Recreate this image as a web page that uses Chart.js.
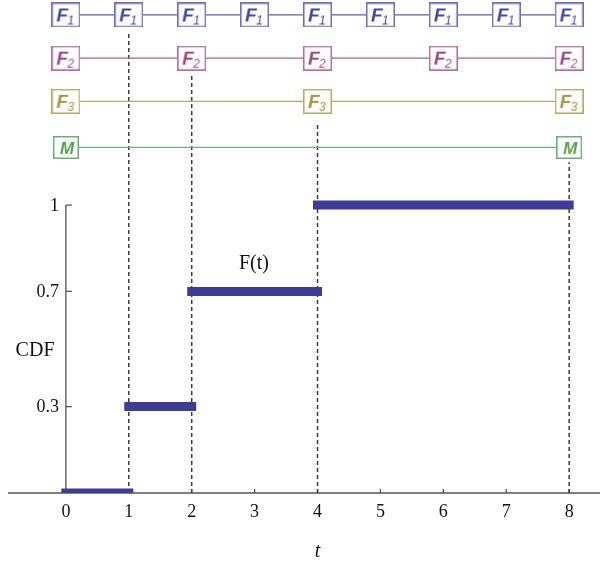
<!DOCTYPE html>
<html>
<head>
<meta charset="utf-8">
<script src="https://cdn.jsdelivr.net/npm/chart.js@4"></script>
<style>
  body { margin: 0; background: #fff; }
  #wrap { width: 606px; height: 567px; }
</style>
</head>
<body>
<div id="wrap"><canvas id="cdfChart" width="606" height="567"></canvas></div>
<script>
// step function F(t)
const stepStart = [0, 1, 2, 4];
const stepEnd = [1, 2, 4, 8];
const stepValue = [0, 0.3, 0.7, 1];

const xTicks = [0, 1, 2, 3, 4, 5, 6, 7, 8];
const yTicks = [0.3, 0.7, 1];
const yTickLabels = ["0.3", "0.7", "1"];

// timeline rows on top (box positions in t)
const rowNames = ["F1", "F2", "F3", "M"];
const rowTimes = [
  [0, 1, 2, 3, 4, 5, 6, 7, 8],
  [0, 2, 4, 6, 8],
  [0, 4, 8],
  [0, 8]
];
const rowLevel = [1.66, 1.51, 1.36, 1.2];

// dashed guides from the axis up to the row where the event occurs
const dashX = [1, 2, 4, 8];
const dashTop = [1.597, 1.458, 1.288, 1.149];

const rowColors = [
  { line: "#5c5cb4", box: "#6d6dbb", text: "#4545a6" },
  { line: "#ab5b98", box: "#b06e9f", text: "#9c4888" },
  { line: "#b8a868", box: "#b9aa68", text: "#a89440" },
  { line: "#68b47a", box: "#66b277", text: "#5aa048" }
];

const serif = "'Liberation Serif', 'Times New Roman', serif";

function makeBox(name, c) {
  const isM = name === "M";
  const w = isM ? 26 : 29, h = isM ? 23 : 25;
  const cv = document.createElement("canvas");
  cv.width = w; cv.height = h;
  const g = cv.getContext("2d");
  g.fillStyle = "#fff";
  g.fillRect(0, 0, w, h);
  g.strokeStyle = c.box;
  g.lineWidth = 1.5;
  g.strokeRect(0.75, 0.75, w - 1.5, h - 1.5);
  g.fillStyle = c.text;
  g.textBaseline = "alphabetic";
  if (isM) {
    g.font = "italic bold 17px 'Liberation Sans', Arial, sans-serif";
    g.textAlign = "center";
    g.fillText("M", w / 2 + 1, 18);
  } else {
    g.font = "italic bold 19px 'Liberation Sans', Arial, sans-serif";
    g.textAlign = "left";
    g.fillText("F", 5, 19);
    g.font = "italic 12px 'Liberation Sans', Arial, sans-serif";
    g.fillText(name.slice(1), 16, 22);
  }
  return cv;
}

const datasets = [];

// rows (lines + boxes)
rowNames.forEach((name, i) => {
  datasets.push({
    data: rowTimes[i].map(t => ({ x: t, y: rowLevel[i] })),
    borderColor: rowColors[i].line,
    borderWidth: 1.3,
    pointStyle: makeBox(name, rowColors[i]),
    order: 1
  });
});

// step bars
const stepData = [];
stepStart.forEach((s, i) => {
  stepData.push({ x: s, y: stepValue[i] }, { x: stepEnd[i], y: stepValue[i] }, { x: stepEnd[i], y: null });
});
datasets.push({
  data: stepData,
  borderColor: "#3d3d97",
  borderWidth: 9,
  borderCapStyle: "square",
  spanGaps: false,
  pointRadius: 0,
  order: 2
});

// dashed guides
dashX.forEach((x, i) => {
  datasets.push({
    data: [{ x: x, y: 0 }, { x: x, y: dashTop[i] }],
    borderColor: "#3a3a3a",
    borderWidth: 1.5,
    borderDash: [4, 3],
    pointRadius: 0,
    order: 5
  });
});

const axisPlugin = {
  id: "axisPlugin",
  beforeDatasetsDraw(chart) {
    const { ctx, scales: { x, y } } = chart;
    const x0 = x.getPixelForValue(0);
    const yb = y.getPixelForValue(0);
    ctx.save();
    ctx.strokeStyle = "#555";
    ctx.lineWidth = 1.3;
    ctx.beginPath();
    // x axis line across the plot
    ctx.moveTo(chart.chartArea.left, yb);
    ctx.lineTo(chart.chartArea.right, yb);
    // y axis line from 0 to 1
    ctx.moveTo(x0, yb);
    ctx.lineTo(x0, y.getPixelForValue(1));
    yTicks.forEach(v => {
      const py = y.getPixelForValue(v);
      ctx.moveTo(x0, py);
      ctx.lineTo(x0 + 6, py);
    });
    xTicks.forEach(v => {
      const px = x.getPixelForValue(v);
      ctx.moveTo(px, yb);
      ctx.lineTo(px, yb - 4);
    });
    ctx.stroke();

    ctx.fillStyle = "#111";
    ctx.font = "18px " + serif;
    ctx.textBaseline = "middle";
    ctx.textAlign = "center";
    xTicks.forEach(v => ctx.fillText(String(v), x.getPixelForValue(v), yb + 19));
    ctx.textAlign = "right";
    yTicks.forEach((v, i) => ctx.fillText(yTickLabels[i], x0 - 7, y.getPixelForValue(v) + 1));
    ctx.restore();
  },
  afterDraw(chart) {
    const { ctx, scales: { x, y } } = chart;
    ctx.save();
    ctx.fillStyle = "#111";
    ctx.textAlign = "center";
    ctx.textBaseline = "middle";
    ctx.font = "20px " + serif;
    ctx.fillText("CDF", x.getPixelForValue(-0.49), y.getPixelForValue(0.495));
    ctx.fillText("F(t)", x.getPixelForValue(2.99), y.getPixelForValue(0.795));
    ctx.font = "italic 20px " + serif;
    ctx.fillText("t", x.getPixelForValue(4), y.getPixelForValue(0) + 59);
    ctx.restore();
  }
};

new Chart(document.getElementById("cdfChart"), {
  type: "line",
  data: { datasets: datasets },
  options: {
    responsive: false,
    animation: false,
    devicePixelRatio: 1,
    layout: { autoPadding: false, padding: { left: 8, right: 6, top: 0, bottom: 74 } },
    plugins: { legend: { display: false }, tooltip: { enabled: false } },
    scales: {
      x: { type: "linear", display: false, min: -0.92, max: 8.49 },
      y: { type: "linear", display: false, min: 0, max: 1.712 }
    }
  },
  plugins: [axisPlugin]
});
</script>
</body>
</html>
